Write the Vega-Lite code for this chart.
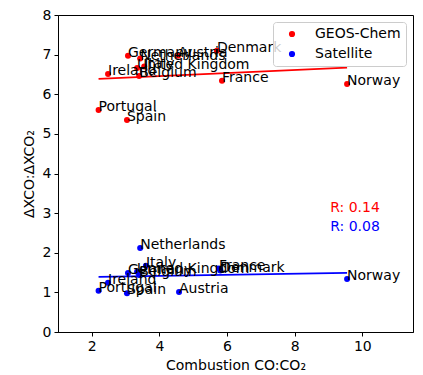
{
  "$schema": "https://vega.github.io/schema/vega-lite/v6.json",
  "width": 355,
  "height": 317,
  "autosize": "none",
  "padding": {"left": 58, "top": 15, "right": 10, "bottom": 43},
  "background": "white",
  "config": {
    "font": "DejaVu Sans",
    "view": {"stroke": "black", "strokeWidth": 1},
    "axis": {"grid": false, "domainColor": "black", "tickColor": "black", "labelColor": "black", "titleColor": "black", "labelFontSize": 14, "titleFontSize": 14, "titleFontWeight": "normal", "tickSize": 4, "labelPadding": 3},
    "legend": {"title": null, "orient": "top-right", "offset": 7, "strokeColor": "#cccccc", "fillColor": "rgba(255,255,255,0.8)", "cornerRadius": 3, "padding": 5, "labelFontSize": 14, "labelColor": "black", "symbolType": "circle", "symbolSize": 22, "rowPadding": 6, "labelOffset": 16, "symbolOffset": 7}
  },
  "datasets": {
    "pts": [
      {"series": "GEOS-Chem", "country": "Germany", "x": 3.07, "y": 6.97},
      {"series": "GEOS-Chem", "country": "Netherlands", "x": 3.43, "y": 6.9},
      {"series": "GEOS-Chem", "country": "Austria", "x": 4.55, "y": 6.97},
      {"series": "GEOS-Chem", "country": "Denmark", "x": 5.7, "y": 7.1},
      {"series": "GEOS-Chem", "country": "United Kingdom", "x": 3.34, "y": 6.66},
      {"series": "GEOS-Chem", "country": "Italy", "x": 3.55, "y": 6.7},
      {"series": "GEOS-Chem", "country": "Ireland", "x": 2.48, "y": 6.51},
      {"series": "GEOS-Chem", "country": "Belgium", "x": 3.4, "y": 6.46},
      {"series": "GEOS-Chem", "country": "France", "x": 5.85, "y": 6.34},
      {"series": "GEOS-Chem", "country": "Portugal", "x": 2.2, "y": 5.6},
      {"series": "GEOS-Chem", "country": "Spain", "x": 3.04, "y": 5.35},
      {"series": "GEOS-Chem", "country": "Norway", "x": 9.55, "y": 6.26},
      {"series": "Satellite", "country": "Netherlands", "x": 3.43, "y": 2.12},
      {"series": "Satellite", "country": "Italy", "x": 3.6, "y": 1.67},
      {"series": "Satellite", "country": "Germany", "x": 3.07, "y": 1.49},
      {"series": "Satellite", "country": "United Kingdom", "x": 3.34, "y": 1.52},
      {"series": "Satellite", "country": "Belgium", "x": 3.4, "y": 1.44},
      {"series": "Satellite", "country": "France", "x": 5.76, "y": 1.6},
      {"series": "Satellite", "country": "Denmark", "x": 5.8, "y": 1.55},
      {"series": "Satellite", "country": "Ireland", "x": 2.48, "y": 1.24},
      {"series": "Satellite", "country": "Portugal", "x": 2.2, "y": 1.04},
      {"series": "Satellite", "country": "Spain", "x": 3.04, "y": 0.98},
      {"series": "Satellite", "country": "Austria", "x": 4.58, "y": 1.01},
      {"series": "Satellite", "country": "Norway", "x": 9.55, "y": 1.34}
    ],
    "fit": [
      {"series": "GEOS-Chem", "x": 2.2, "y": 6.39},
      {"series": "GEOS-Chem", "x": 9.55, "y": 6.67},
      {"series": "Satellite", "x": 2.2, "y": 1.39},
      {"series": "Satellite", "x": 9.55, "y": 1.49}
    ],
    "rtext": [
      {"series": "GEOS-Chem", "label": "R: 0.14", "x": 9.05, "y": 3.13},
      {"series": "Satellite", "label": "R: 0.08", "x": 9.05, "y": 2.65}
    ]
  },
  "encoding": {
    "x": {"field": "x", "type": "quantitative", "scale": {"domain": [1, 11.5], "nice": false}, "axis": {"values": [2, 4, 6, 8, 10], "title": "Combustion CO:CO₂", "titlePadding": 5}},
    "y": {"field": "y", "type": "quantitative", "scale": {"domain": [0, 8], "nice": false}, "axis": {"values": [0, 1, 2, 3, 4, 5, 6, 7, 8], "title": "ΔXCO:ΔXCO₂", "titlePadding": 6}},
    "color": {"field": "series", "type": "nominal", "scale": {"domain": ["GEOS-Chem", "Satellite"], "range": ["#ff0000", "#0000ff"]}}
  },
  "layer": [
    {
      "data": {"name": "fit"},
      "mark": {"type": "line", "strokeWidth": 1.8},
      "encoding": {"detail": {"field": "series"}}
    },
    {
      "data": {"name": "pts"},
      "mark": {"type": "circle", "size": 36, "opacity": 1}
    },
    {
      "data": {"name": "pts"},
      "mark": {"type": "text", "align": "left", "baseline": "alphabetic", "fontSize": 14, "dx": 0, "dy": 1},
      "encoding": {"text": {"field": "country"}, "color": {"value": "black"}}
    },
    {
      "data": {"name": "rtext"},
      "mark": {"type": "text", "align": "left", "baseline": "middle", "fontSize": 14},
      "encoding": {"text": {"field": "label"}}
    }
  ]
}
